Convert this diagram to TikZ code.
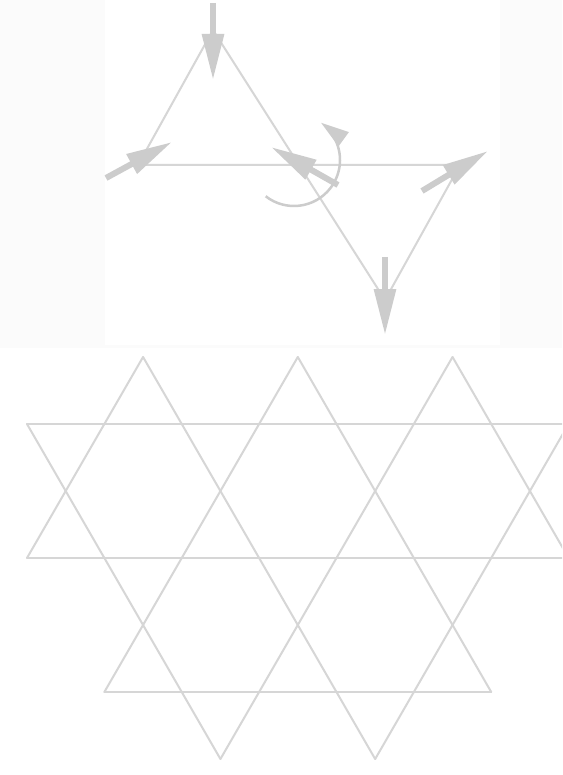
\documentclass[tikz,border=0pt]{standalone}
\usepackage{xcolor}
\usepackage{tikz}
\usetikzlibrary{arrows.meta, calc}
\definecolor{pagegray}{RGB}{251,251,251}
\definecolor{bondgray}{RGB}{214,214,214}
\definecolor{spingray}{RGB}{204,204,204}

\begin{document}
\begin{tikzpicture}[x=1pt, y=-1pt,
  bond/.style={draw=bondgray, line width=2pt, line cap=round, line join=round},
  spin/.style={draw=spingray, line width=6pt, -{Triangle[length=46pt, width=21pt]}},
  turn/.style={draw=spingray, line width=2.5pt, -{Triangle[length=28pt, width=17pt]}}]
  \useasboundingbox (0,0) rectangle (562,775);
  \fill[pagegray] (0,0) rectangle (562,775);
  \fill[white] (105,0) rectangle (500,345);
  \fill[white] (0,348) rectangle (562,775);
  \clip (0,0) rectangle (562,775);
  % two triangles sharing the corner C
  \coordinate (A) at (213,30);
  \coordinate (B) at (138,165);
  \coordinate (C) at (300,165);
  \coordinate (D) at (460,165);
  \coordinate (E) at (385,300);
  \draw[bond] (B) -- (A) -- (E) -- (D) -- cycle;
  % spins
  \draw[spin] ($(A)+(0,-27)$) -- ($(A)+(0,50)$);
  \draw[spin] ($(B)+(-32,13)$) -- ($(B)+(34,-23)$);
  \draw[spin] ($(C)+(38,20)$) -- ($(C)+(-29,-18)$);
  \draw[spin] ($(D)+(-38,26)$) -- ($(D)+(28,-14)$);
  \draw[spin] ($(E)+(0,-43)$) -- ($(E)+(0,35)$);
  % rotation around C
  \draw[turn] ($(C)+(-6,-5)$) ++(232:46pt) arc[start angle=232, end angle=414, radius=46pt];
  % kagome lattice
  \begin{scope}[shift={(27,558)}, x=77.37pt, y=134pt]
    \foreach \u/\v/\l in {0/0/1.5, 1/-1/2.5, 2.5/-1.5/3, 4.5/-1.5/3}
      \draw[bond] (\u,\v) -- ++(\l,\l);
    \foreach \u/\v/\l in {0/1/2.5, 1.5/1.5/3, 3.5/1.5/2.5, 5.5/1.5/2}
      \draw[bond] (\u,\v) -- ++(\l,-\l);
    \foreach \u/\v/\l in {0/1/7.5, 0/0/7.5, 1/-1/5}
      \draw[bond] (\u,\v) -- ++(\l,0);
  \end{scope}
\end{tikzpicture}
\end{document}
